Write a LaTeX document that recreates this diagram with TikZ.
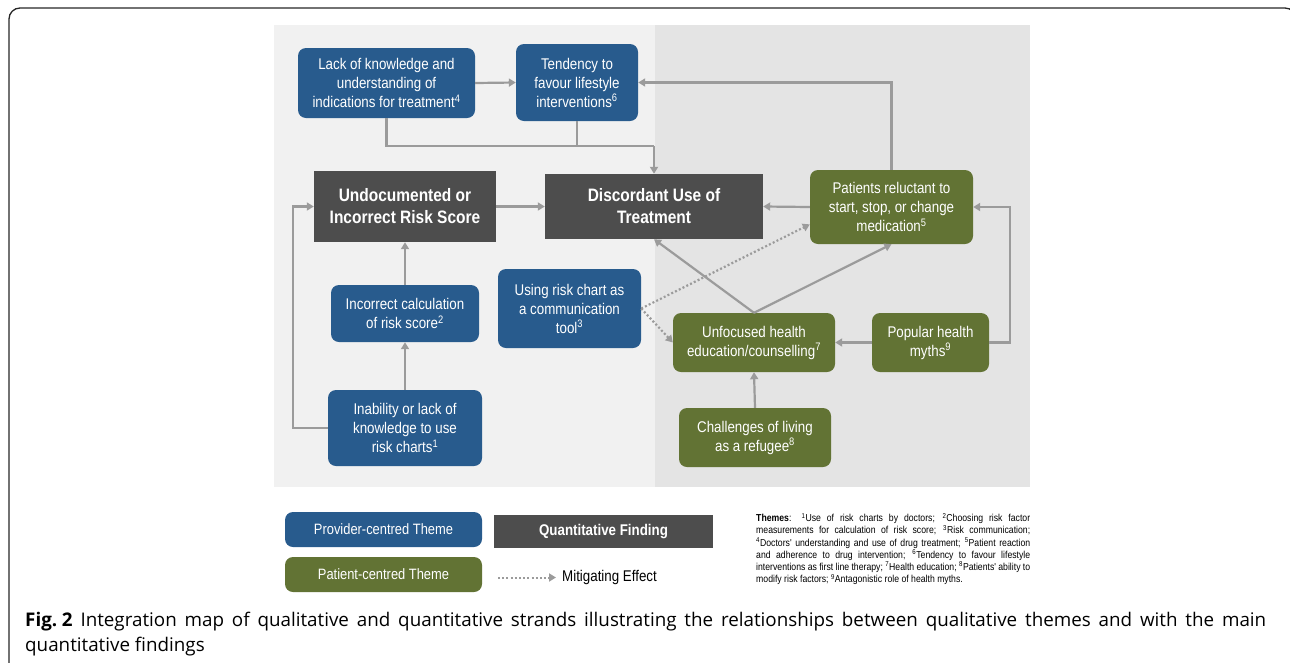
\documentclass[tikz,border=0pt]{standalone}
\usepackage{fontspec}
\setmainfont{Liberation Sans}
\newfontfamily\nar[FakeStretch=0.86]{Liberation Sans}
\newfontfamily\capfont{Open Sans}
\usetikzlibrary{arrows.meta}
\definecolor{provblue}{HTML}{285B8D}
\definecolor{patgreen}{HTML}{627334}
\definecolor{quantgray}{HTML}{4D4D4D}
\definecolor{arrowgray}{HTML}{9B9B9B}
\definecolor{panellight}{HTML}{F1F1F1}
\definecolor{paneldark}{HTML}{E4E4E4}
\begin{document}
\begin{tikzpicture}[x=1pt,y=-1pt,
  theme/.style={rounded corners=8pt, text=white, font=\nar\fontsize{15.5}{19}\selectfont, align=center, inner sep=0pt},
  prov/.style={theme, fill=provblue},
  pat/.style={theme, fill=patgreen},
  quant/.style={fill=quantgray, text=white, font=\nar\bfseries\fontsize{18}{22}\selectfont, align=center, inner sep=0pt},
  link/.style={draw=arrowgray, line width=2.2pt},
  conn/.style={link, -{Triangle[length=7pt,width=8pt]}},
  mitig/.style={draw=arrowgray, line width=2.2pt, dash pattern=on 2pt off 2.2pt, -{Triangle[length=7pt,width=8pt]}},
]
\useasboundingbox (0,0) rectangle (1290,662);
% outer frame
\draw[line width=1.3pt, rounded corners=11pt, draw=black!85] (9,690) -- (9,8) -- (1296,8) -- (1296,690);
% panels
\fill[panellight] (274,25) rectangle (655,487);
\fill[paneldark] (655,25) rectangle (1030,487);

% nodes
\node[prov, minimum width=177pt, minimum height=70pt] (lack) at (386.5,83) {Lack of knowledge and\\understanding of\\indications for treatment\textsuperscript{4}};
\node[prov, minimum width=122pt, minimum height=77pt] (tend) at (577,82.5) {Tendency to\\favour lifestyle\\interventions\textsuperscript{6}};
\node[quant, minimum width=182pt, minimum height=71pt] (undoc) at (405,206.5) {Undocumented or\\Incorrect Risk Score};
\node[quant, minimum width=218pt, minimum height=65pt] (disc) at (654,206.5) {Discordant Use of\\Treatment};
\node[pat, minimum width=163pt, minimum height=74pt] (reluct) at (891.5,207) {Patients reluctant to\\start, stop, or change\\medication\textsuperscript{5}};
\node[prov, minimum width=148pt, minimum height=57pt] (calc) at (405,313.5) {Incorrect calculation\\of risk score\textsuperscript{2}};
\node[prov, minimum width=143pt, minimum height=79pt] (using) at (569.5,308.5) {Using risk chart as\\a communication\\tool\textsuperscript{3}};
\node[prov, minimum width=154pt, minimum height=76pt] (inab) at (405,428) {Inability or lack of\\knowledge to use\\risk charts\textsuperscript{1}};
\node[pat, minimum width=162pt, minimum height=59pt] (unf) at (754,342.5) {Unfocused health\\education/counselling\textsuperscript{7}};
\node[pat, minimum width=117pt, minimum height=59pt] (myth) at (930.5,342.5) {Popular health\\myths\textsuperscript{9}};
\node[pat, minimum width=152pt, minimum height=59pt] (chal) at (755,437.5) {Challenges of living\\as a refugee\textsuperscript{8}};

% connectors
\coordinate (j1) at (654,146);
\draw[conn] (lack.east) -- (tend.west);
\draw[link] (lack.south) |- (j1);
\draw[link] (tend.south) -- (tend.south |- j1);
\draw[conn] (j1) -- (disc.north);
\draw[conn] (reluct.north) |- (tend.east);
\draw[conn] (undoc.east) -- (disc.west);
\draw[conn] (reluct.west) -- (disc.east);
\draw[conn] (calc.north) -- (undoc.south);
\draw[conn] (inab.north) -- (calc.south);
\draw[conn] (inab.west) -- ++(-35,0) |- (undoc.west);
\draw[conn] (unf.north) -- (disc.south);
\draw[conn] (unf.north) -- (reluct.south);
\draw[conn] (myth.west) -- (unf.east);
\draw[conn] (myth.east) -- ++(21,0) |- (reluct.east);
\draw[conn] (chal.north) -- (unf.south);
\draw[mitig] (using.east) -- (reluct.192.5);
\draw[mitig] (using.east) -- (unf.west);

% legend
\node[prov, minimum width=197pt, minimum height=35pt, font=\nar\fontsize{15}{18}\selectfont] (lprov) at (383.5,529.5) {Provider-centred Theme};
\node[quant, minimum width=219pt, minimum height=33pt, font=\nar\bfseries\fontsize{15.5}{18}\selectfont] (lquant) at (603.5,531.5) {Quantitative Finding};
\node[pat, minimum width=197pt, minimum height=35pt, font=\nar\fontsize{15}{18}\selectfont] (lpat) at (383.5,574.5) {Patient-centred Theme};
\coordinate (ma) at (498,577.5);
\coordinate (mb) at (556,577.5);
\draw[mitig, line width=2pt] (ma) -- (mb);
\node[anchor=west, inner sep=0pt, font=\nar\fontsize{15.5}{18}\selectfont] (lmit) at (562,577.5) {Mitigating Effect};

% themes text
\node[anchor=north west, inner sep=0pt, align=left, font=\nar\fontsize{10.1}{12.2}\selectfont] (themes) at (756,513) {%
\makebox[274pt][s]{\textbf{Themes}: \textsuperscript{1}Use of risk charts by doctors; \textsuperscript{2}Choosing risk factor}\\
\makebox[274pt][s]{measurements for calculation of risk score; \textsuperscript{3}Risk communication;}\\
\makebox[274pt][s]{\textsuperscript{4}Doctors' understanding and use of drug treatment; \textsuperscript{5}Patient reaction}\\
\makebox[274pt][s]{and adherence to drug intervention; \textsuperscript{6}Tendency to favour lifestyle}\\
\makebox[274pt][s]{interventions as first line therapy; \textsuperscript{7}Health education; \textsuperscript{8}Patients' ability to}\\
modify risk factors; \textsuperscript{9}Antagonistic role of health myths.};

% caption
\node[anchor=north west, inner sep=0pt, align=left, font=\capfont\fontsize{18.8}{25}\selectfont] (caption) at (25,612) {%
\makebox[1241pt][s]{\mbox{\textbf{Fig.\kern0.25em2}} Integration map of qualitative and quantitative strands illustrating the relationships between qualitative themes and with the main}\\
quantitative findings};
\end{tikzpicture}
\end{document}
